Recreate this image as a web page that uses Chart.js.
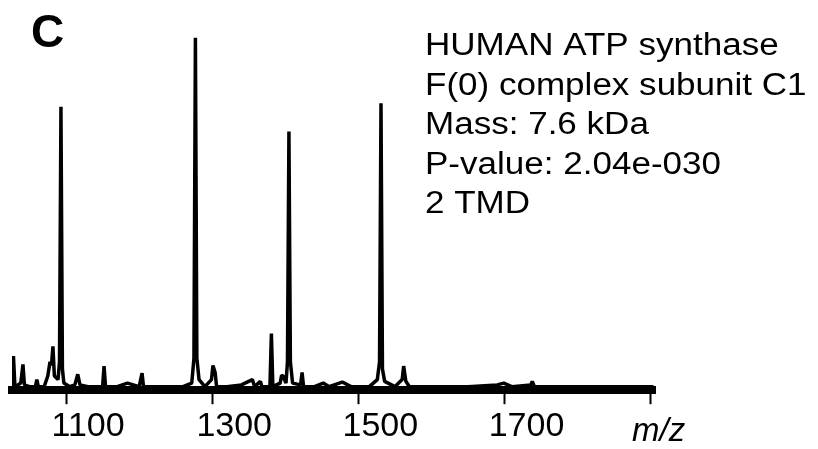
<!DOCTYPE html>
<html>
<head>
<meta charset="utf-8">
<script src="https://cdn.jsdelivr.net/npm/chart.js@4"></script>
<style>
  html, body { margin: 0; padding: 0; background: #fff; }
  #wrap { width: 818px; height: 449px; }
</style>
</head>
<body>
<div id="wrap"><canvas id="spectrum" width="818" height="449"></canvas></div>
<script>
// peak list of the MS spectrum (m/z, relative intensity)
const mzValues = [
  1026, 1028, 1030, 1034, 1038, 1041, 1043, 1050, 1058, 1060, 1062, 1070,
  1075, 1078, 1080, 1082, 1084, 1089, 1091, 1093, 1095, 1097, 1105, 1112,
  1116, 1119, 1130, 1150, 1152, 1154, 1170, 1184, 1200, 1204, 1206, 1230,
  1260, 1272, 1275, 1277, 1279, 1282, 1290, 1299, 1301, 1304, 1306, 1320,
  1340, 1355, 1358, 1366, 1368, 1379, 1381, 1383, 1393, 1395, 1397, 1401,
  1403, 1405, 1407, 1410, 1421, 1423, 1425, 1440, 1452, 1460, 1478, 1490,
  1515, 1526, 1529, 1531, 1533, 1536, 1550, 1560, 1562, 1565, 1570, 1600,
  1650, 1690, 1699, 1710, 1736, 1738, 1741, 1780, 1820, 1860, 1904
];
const intensities = [
  1, 9.6, 1, 1.5, 2, 7.3, 1.5, 1, 1, 3, 1, 1,
  4, 8, 7, 12.4, 4, 3, 8, 80, 6, 2, 1, 1.5,
  4.5, 1.5, 1, 1, 6.8, 1, 1, 2, 1, 4.8, 1, 1,
  1, 2, 9, 99.5, 9, 3, 1, 3, 7, 5, 1, 1,
  1.5, 3, 1, 2.5, 1, 1, 16, 1, 2, 4.2, 4, 2,
  8, 73, 8, 2, 1.5, 5, 1, 1, 2, 1, 2.3, 1,
  1, 3, 8, 81, 6, 2.5, 1, 3, 6.8, 2.5, 1, 1,
  1, 1.5, 2, 1, 1.5, 2.5, 1, 1, 1, 1, 1
];
const tickValues = [1100, 1300, 1500, 1700, 1900];
const tickLabels = ["1100", "1300", "1500", "1700", ""];
const axisTitle = "m/z";
const panelLetter = "C";
const infoLines = [
  "HUMAN ATP synthase",
  "F(0) complex subunit C1",
  "Mass: 7.6 kDa",
  "P-value: 2.04e-030",
  "2 TMD"
];

const points = mzValues.map((mz, i) => ({ x: mz, y: intensities[i] }));

// letter, protein info and the m/z axis label
const annotate = {
  id: "annotate",
  afterDraw(chart) {
    const ctx = chart.ctx;
    const xScale = chart.scales.x;
    ctx.save();
    ctx.fillStyle = "#000";
    ctx.textBaseline = "alphabetic";

    ctx.font = "bold 46px 'Liberation Sans', Arial, sans-serif";
    ctx.fillText(panelLetter, 31, 47);

    ctx.font = "31px 'Liberation Sans', Arial, sans-serif";
    infoLines.forEach((line, i) => {
      ctx.save();
      ctx.translate(425, 55 + i * 39.5);
      ctx.scale(1.13, 1);
      ctx.fillText(line, 0, 0);
      ctx.restore();
    });

    ctx.font = "italic 33px 'Liberation Sans', Arial, sans-serif";
    ctx.textAlign = "center";
    ctx.fillText(axisTitle, xScale.getPixelForValue(1900) + 8, 441);
    ctx.restore();
  }
};

const ctx = document.getElementById("spectrum").getContext("2d");
new Chart(ctx, {
  type: "line",
  data: {
    datasets: [{
      data: points,
      borderColor: "#000",
      borderWidth: 3.5,
      borderJoinStyle: "bevel",
      pointRadius: 0,
      tension: 0,
      fill: false
    }]
  },
  options: {
    responsive: false,
    animation: false,
    layout: { padding: { left: 12, right: 163, top: 36, bottom: 0 } },
    plugins: { legend: { display: false }, tooltip: { enabled: false } },
    scales: {
      x: {
        type: "linear",
        min: 1026,
        max: 1906,
        afterBuildTicks: (axis) => {
          axis.ticks = tickValues.map(v => ({ value: v }));
        },
        border: { display: true, color: "#000", width: 8 },
        grid: {
          drawOnChartArea: false,
          drawTicks: true,
          tickLength: 14,
          tickColor: "#000",
          tickWidth: 2
        },
        ticks: {
          color: "#000",
          padding: 2,
          labelOffset: 22,
          maxRotation: 0,
          autoSkip: false,
          font: { family: "'Liberation Sans', Arial, sans-serif", size: 34 },
          callback: (value) => {
            const i = tickValues.indexOf(value);
            return i >= 0 ? tickLabels[i] : "";
          }
        }
      },
      y: {
        display: false,
        min: 0,
        max: 100
      }
    }
  },
  plugins: [annotate]
});
</script>
</body>
</html>
